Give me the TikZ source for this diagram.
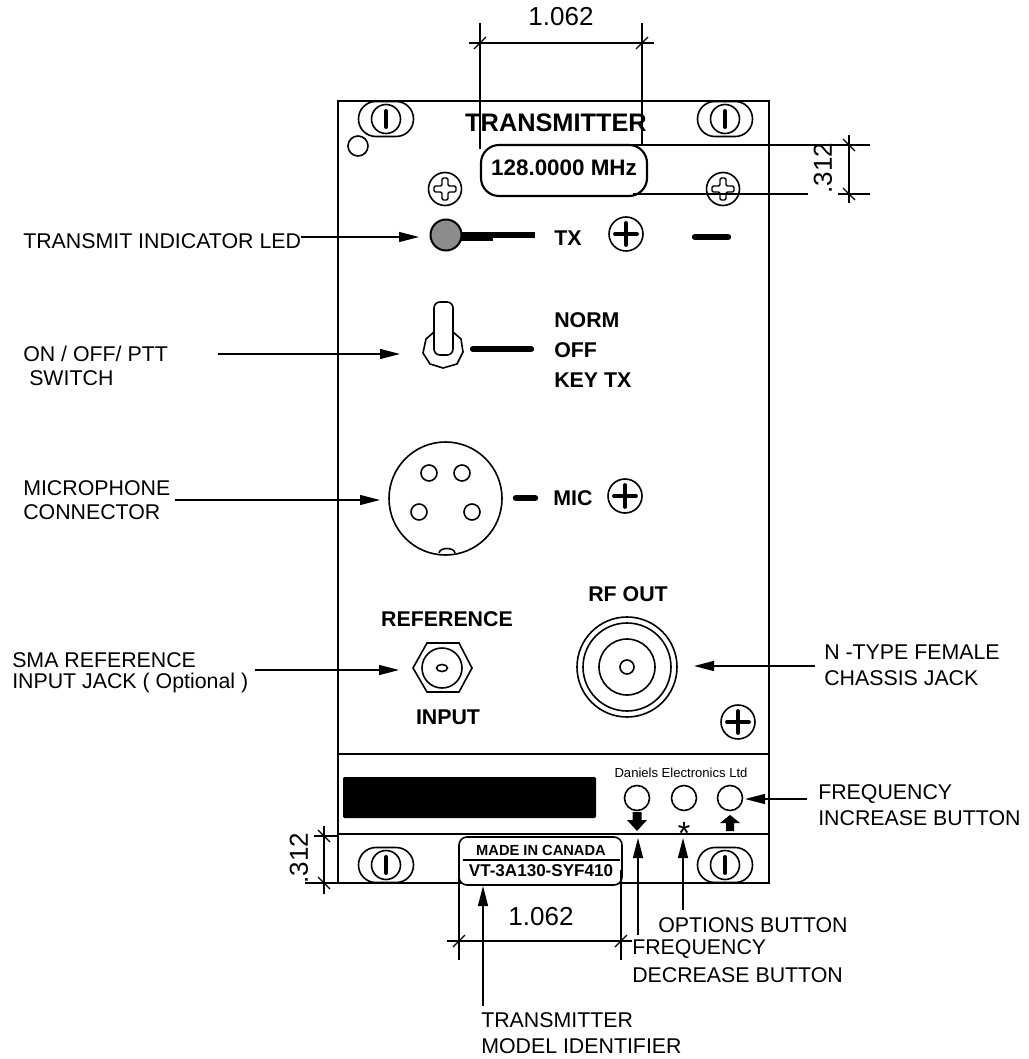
\documentclass[tikz,border=0pt]{standalone}
\usepackage{fontspec}
\setmainfont{Liberation Sans}
\usetikzlibrary{arrows.meta}
\tikzset{
  px/.style={x=0.75pt,y=-0.75pt},
  ln/.style={draw=black,line width=1.2pt},
  thin ln/.style={draw=black,line width=1pt},
  lbl/.style={anchor=west,inner sep=0pt,font=\fontsize{16}{18}\selectfont},
  dimtxt/.style={inner sep=0pt,font=\fontsize{19.5}{21}\selectfont},
  bold/.style={inner sep=0pt,font=\fontsize{16}{18}\selectfont\bfseries},
  ptr/.style={draw=black,line width=1pt,-{Triangle[length=15pt,width=7.5pt]}},
  bar/.style={draw=black,line width=4.8pt,line cap=round},
  pics/slotscrew/.style={code={
    \draw[ln,rounded corners=13pt] (-27.5,-17.5) rectangle (27.5,17.5);
    \draw[ln] (0,0) circle (14.5);
    \draw[draw=black,line width=3pt,line cap=round] (0,-8) -- (0,8);
  }},
  pics/hollowplus/.style={code={
    \draw[ln] (0,0) circle (16.5);
    \draw[thin ln,rounded corners=1pt] (-3,-11) -- (3,-11) -- (3,-3) -- (11,-3) -- (11,3) -- (3,3) -- (3,11) -- (-3,11) -- (-3,3) -- (-11,3) -- (-11,-3) -- (-3,-3) -- cycle;
  }},
  pics/solidplus/.style={code={
    \draw[ln] (0,0) circle (17);
    \draw[draw=black,line width=2.8pt,line cap=round] (-11,0) -- (11,0) (0,-11) -- (0,11);
  }},
}
\begin{document}
\begin{tikzpicture}[px]
\useasboundingbox (0,0) rectangle (1028,1059);
% panel
\draw[ln] (338,101) rectangle (769,883);
\draw[ln] (338,754) -- (769,754);
\draw[ln] (338,834) -- (769,834);
% screws
\pic at (386,119) {slotscrew};
\pic at (725,119) {slotscrew};
\pic at (386,865) {slotscrew};
\pic at (725,865) {slotscrew};
\pic at (445,189) {hollowplus};
\pic at (723,189) {hollowplus};
\pic at (626,234) {solidplus};
\pic at (625,496) {solidplus};
\pic at (738,722) {solidplus};
\draw[ln] (358,146) circle (10);
% title and display
\node[bold,font=\fontsize{19}{21}\selectfont\bfseries] (title) at (556,123) {TRANSMITTER};
\draw[draw=black,line width=1.6pt,rounded corners=13.5pt] (481,145) rectangle (647,196);
\node[bold,font=\fontsize{16.8}{19}\selectfont\bfseries] (freq) at (564,168) {128.0000 MHz};
% top dimension
\draw[thin ln] (480,23) -- (480,149);
\draw[thin ln] (642,23) -- (642,145);
\draw[thin ln] (469,43) -- (654,43);
\draw[thin ln] (474,49) -- (486,37);
\draw[thin ln] (636,49) -- (648,37);
\node[dimtxt] (topdim) at (561,17) {1.062};
% right dimension
\draw[thin ln] (633,194) -- (870,194);
\node[dimtxt,rotate=90,fill=white,inner xsep=2pt,inner ysep=4pt] (rightdim) at (823,168) {.312};
\draw[thin ln] (628,145) -- (870,145);
\draw[thin ln] (849,135) -- (849,203);
\draw[thin ln] (843,139) -- (855,151);
\draw[thin ln] (843,188) -- (855,200);
% LED
\draw[bar,line cap=butt] (461,235) -- (535,235);
\draw[bar,line cap=butt,line width=5.5pt] (461,237) -- (493,237);
\draw[draw=black,line width=1.5pt,fill=black!45] (446,235) circle (15.5);
\node[bold] (tx) at (568,238) {TX};
\draw[bar] (695,237) -- (728,237);
% switch
\draw[ln] (443,368) -- (457,364) -- (463,352) -- (461,339) -- (453,332) -- (434,332) -- (426,339) -- (423,353) -- (430,364) -- cycle;
\draw[ln,fill=white,rounded corners=4.5pt] (434,302) rectangle (453,355);
\draw[bar] (473,349) -- (531,349);
\node[bold,anchor=west] (norm) at (554,320) {NORM};
\node[bold,anchor=west] (off) at (554,350) {OFF};
\node[bold,anchor=west] (key) at (554,380) {KEY TX};
% mic
\draw[ln] (445.5,498.5) circle (56.5);
\foreach \p in {(429,473),(462,473),(419,512),(472,512)} \draw[ln] \p circle (8);
\draw[ln] (439,553) .. controls (440,547) and (454,547) .. (455,553);
\draw[bar] (516,498) -- (535,498);
\node[bold] (mic) at (573,498) {MIC};
% reference jack
\node[bold] (reftxt) at (447,619) {REFERENCE};
\draw[ln] (413,668) -- (427,643) -- (459,643) -- (472,668) -- (459,692) -- (427,692) -- cycle;
\draw[ln] (442,668) circle (20);
\draw[ln] (442,668) ellipse (5.5 and 3.5);
\node[bold] (inputtxt) at (448,717) {INPUT};
% RF
\node[bold] (rftxt) at (628,594) {RF OUT};
\draw[ln] (627,667) circle (50);
\draw[ln] (627,667) circle (44);
\draw[ln] (627,667) circle (28);
\draw[ln] (627,667) circle (7);
% lower strip
\fill[black,rounded corners=1pt] (343,777) rectangle (596,818);
\node[inner sep=0pt,font=\fontsize{9.8}{11}\selectfont] (daniels) at (681,773) {Daniels Electronics Ltd};
\draw[ln] (637,798) circle (12.5);
\draw[ln] (684,798) circle (12.5);
\draw[ln] (730,798) circle (12.5);
\fill[black] (632.5,812) -- (641.5,812) -- (641.5,820) -- (647,820) -- (637,831) -- (627,820) -- (632.5,820) -- cycle;
\node[inner sep=0pt,font=\fontsize{24}{26}\selectfont] (star) at (684,833) {*};
\fill[black] (726,831) -- (734,831) -- (734,823) -- (740,823) -- (730,815) -- (720,823) -- (726,823) -- cycle;
% model label
\draw[ln,fill=white,rounded corners=6pt] (459,837) rectangle (622,885);
\node[bold,font=\fontsize{11}{13}\selectfont\bfseries] (made) at (541,850) {MADE IN CANADA};
\draw[thin ln] (463,860) -- (620,860);
\node[bold,font=\fontsize{12.8}{15}\selectfont\bfseries] (model) at (541,871) {VT-3A130-SYF410};
% bottom dimension
\draw[thin ln] (459,870) -- (459,960);
\draw[thin ln] (621,870) -- (621,960);
\draw[thin ln] (447,941) -- (632,941);
\draw[thin ln] (453,947) -- (465,935);
\draw[thin ln] (615,947) -- (627,935);
\node[dimtxt] (botdim) at (541,917) {1.062};
% left dimension
\draw[thin ln] (314,836) -- (338,836);
\draw[thin ln] (305,883) -- (338,883);
\draw[thin ln] (324,826) -- (324,894);
\draw[thin ln] (318,830) -- (330,842);
\draw[thin ln] (318,877) -- (330,889);
\node[dimtxt,rotate=90] (leftdim) at (299,858) {.312};
% callouts
\node[lbl] (l1) at (23,241) {TRANSMIT INDICATOR LED};
\coordinate (t1) at (419,237);
\draw[ptr] (l1.east |- t1) -- (t1);
\node[lbl] (l2a) at (23,354) {ON / OFF/ PTT};
\node[lbl] (l2b) at (29,378) {SWITCH};
\coordinate (s2) at (218,354);
\coordinate (t2) at (400,354);
\draw[ptr] (s2) -- (t2);
\node[lbl] (l3a) at (23,488) {MICROPHONE};
\node[lbl] (l3b) at (23,512) {CONNECTOR};
\coordinate (s3) at (175,500);
\coordinate (t3) at (380,500);
\draw[ptr] (s3) -- (t3);
\node[lbl] (l4a) at (12,660) {SMA REFERENCE};
\node[lbl] (l4b) at (12,683) {INPUT JACK ( Optional )};
\coordinate (s4) at (255,670);
\coordinate (t4) at (399,670);
\draw[ptr] (s4) -- (t4);
\node[lbl] (l5a) at (824,652) {N -TYPE FEMALE};
\node[lbl] (l5b) at (824,678) {CHASSIS JACK};
\coordinate (s5) at (815,666);
\coordinate (t5) at (694,666);
\draw[ptr] (s5) -- (t5);
\node[lbl] (l6a) at (818,794) {FREQUENCY};
\node[lbl] (l6b) at (818,818) {INCREASE BUTTON};
\coordinate (s6) at (807,799);
\coordinate (t6) at (745,799);
\draw[ptr] (s6) -- (t6);
\node[lbl] (l7) at (658,925) {OPTIONS BUTTON};
\coordinate (s7) at (683,910);
\coordinate (t7) at (683,838);
\draw[ptr] (s7) -- (t7);
\node[lbl] (l8a) at (632,949) {FREQUENCY};
\node[lbl] (l8b) at (632,975) {DECREASE BUTTON};
\coordinate (s8) at (638,935);
\coordinate (t8) at (638,838);
\draw[ptr] (s8) -- (t8);
\node[lbl] (l9a) at (481,1020) {TRANSMITTER};
\node[lbl] (l9b) at (481,1046) {MODEL IDENTIFIER};
\coordinate (s9) at (483,1006);
\coordinate (t9) at (483,886);
\draw[ptr] (s9) -- (t9);
\end{tikzpicture}
\end{document}
